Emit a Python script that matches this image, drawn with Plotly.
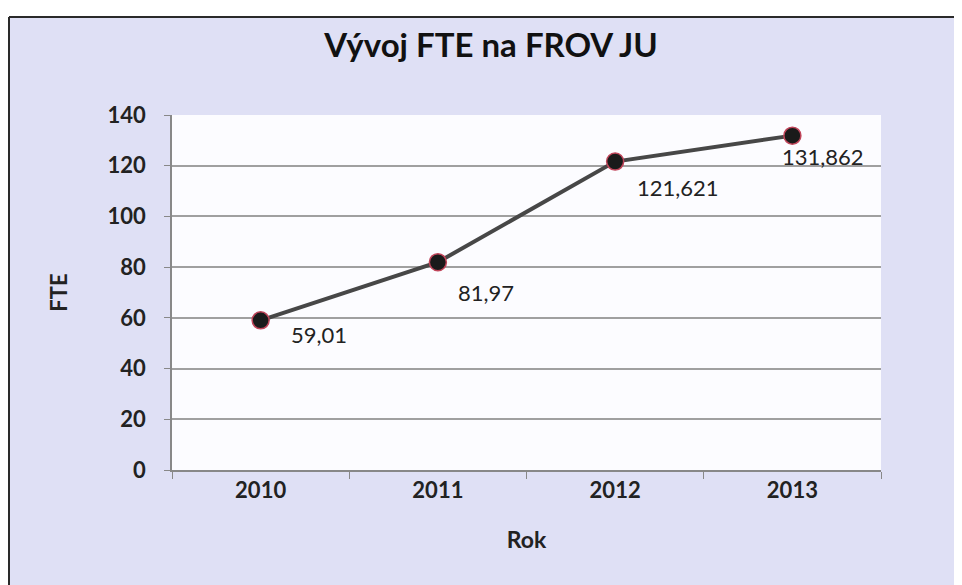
import plotly.graph_objects as go

# Data
years = ["2010", "2011", "2012", "2013"]
fte = [59.01, 81.97, 121.621, 131.862]
labels = ["59,01", "81,97", "121,621", "131,862"]
y_ticks = [0, 20, 40, 60, 80, 100, 120, 140]

# the page has an 8px body margin, so the figure is a bit smaller than the window
W, H = 954, 577
L, R, T, B = 164, 81, 107, 115
pw, ph = W - L - R, H - T - B

def px_x(px):
    return (px - L) / pw

def px_y(py):
    return (H - B - py) / ph

FONT = "Lato, 'Open Sans', sans-serif"

fig = go.Figure()
fig.add_trace(go.Scatter(
    x=years, y=fte,
    mode="lines+markers",
    line=dict(color="#474747", width=4),
    marker=dict(size=17, color="#1a1a1a", line=dict(color="#c0455a", width=1.5)),
    hoverinfo="skip",
    showlegend=False,
))

# data labels, offset right and below each point
# (category axis: annotation x given as category index)
shifts = [(28, 1), (18, -15), (20, -10), (-12, -5)]
for i, (v, lab, (dx, dy)) in enumerate(zip(fte, labels, shifts)):
    fig.add_annotation(
        x=i, y=v, text=lab, showarrow=False,
        xanchor="left", yanchor="top", xshift=dx, yshift=dy,
        font=dict(family=FONT, size=22, color="#222222"),
    )

# white strip above the chart frame, then dark border on top and left edges
fig.add_shape(
    type="rect", xref="paper", yref="paper", layer="below",
    x0=px_x(-5), x1=px_x(970), y0=px_y(9), y1=px_y(-5),
    fillcolor="white", line=dict(width=0),
)
fig.add_shape(type="line", xref="paper", yref="paper", layer="below",
              x0=px_x(1), x1=px_x(970), y0=px_y(9), y1=px_y(9),
              line=dict(color="#2a2a2a", width=2))
fig.add_shape(type="line", xref="paper", yref="paper", layer="below",
              x0=px_x(1), x1=px_x(1), y0=px_y(9), y1=px_y(600),
              line=dict(color="#2a2a2a", width=2))

fig.update_layout(
    width=W, height=H,
    margin=dict(l=L, r=R, t=T, b=B),
    paper_bgcolor="#dfe0f5",
    plot_bgcolor="#fcfcff",
    title=dict(
        text="<b>Vývoj FTE na FROV JU</b>",
        x=px_x(483), xanchor="center", xref="paper",
        y=1 - 37 / H, yanchor="middle",
        font=dict(family=FONT, size=33, color="#111111"),
    ),
    xaxis=dict(
        type="category",
        range=[-0.5, 3.5],
        tickson="boundaries",
        tickangle=0,
        automargin=False,
        ticks="outside", ticklen=7, tickcolor="#888888",
        showline=True, linecolor="#888888", linewidth=1.5,
        showgrid=False,
        ticklabelstandoff=0,
        tickfont=dict(family=FONT, size=22, color="#222222", weight="bold"),
        title=dict(text="<b>Rok</b>", font=dict(family=FONT, size=23, color="#222222"), standoff=30),
    ),
    yaxis=dict(
        range=[0, 140],
        tickvals=y_ticks,
        automargin=False,
        ticks="outside", ticklen=6, tickcolor="#888888",
        showline=True, linecolor="#888888", linewidth=1.5,
        showgrid=True, gridcolor="#a0a0a0", gridwidth=1.5,
        zeroline=False,
        ticklabelstandoff=14,
        tickfont=dict(family=FONT, size=22, color="#222222", weight="bold"),
        title=dict(text="<b>FTE</b>", font=dict(family=FONT, size=22, color="#222222"), standoff=34),
    ),
)

fig.write_html("out.html")
